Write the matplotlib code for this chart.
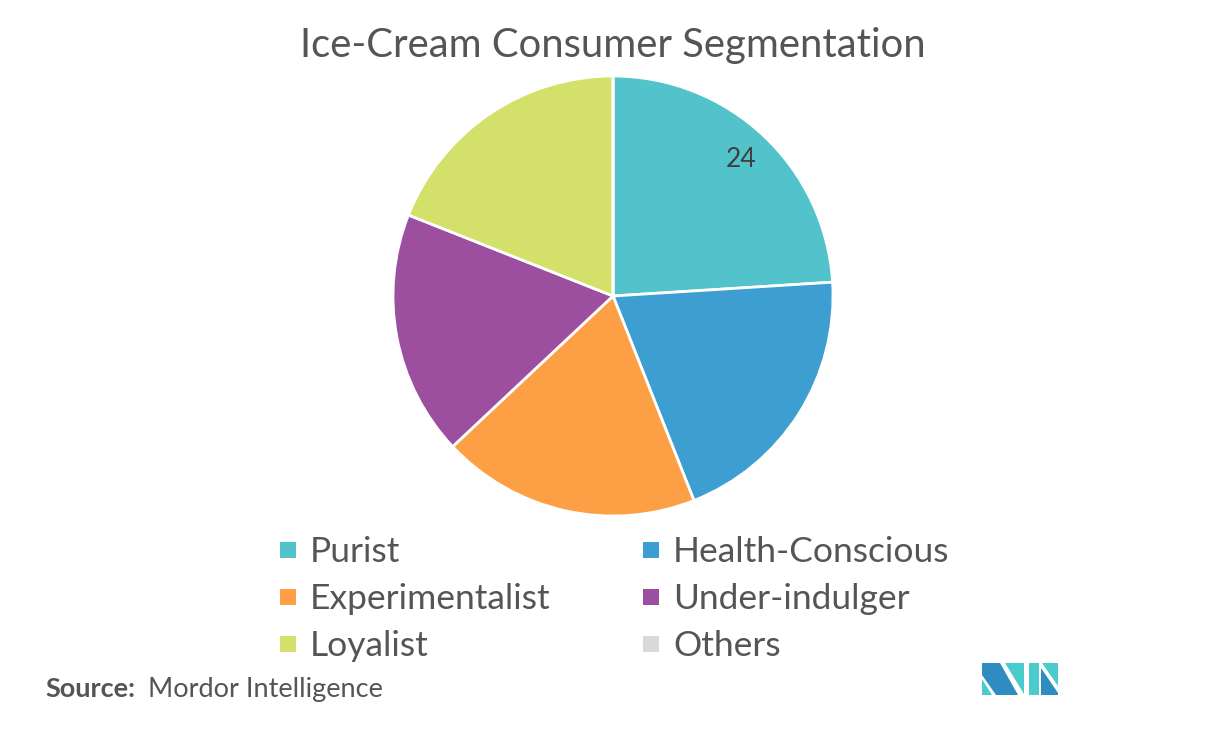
import matplotlib
matplotlib.use("Agg")
import matplotlib.pyplot as plt
from matplotlib.patches import Rectangle, Polygon
import numpy as np

categories = ["Purist", "Health-Conscious", "Experimentalist", "Under-indulger", "Loyalist", "Others"]
values = [24, 20, 19, 18, 19, 0]
colors = ["#52C3CA", "#3D9FD1", "#FD9F45", "#9C4F9E", "#D3E069", "#D9D9D9"]
shown_labels = ["24", "", "", "", "", ""]

title = "Ice-Cream Consumer Segmentation"

W, H = 1226, 736
fig = plt.figure(figsize=(W / 100, H / 100), dpi=100)
fig.patch.set_facecolor("white")

cx, cy, r = 613, 296, 220
ax = fig.add_axes([(cx - r) / W, 1 - (cy + r) / H, 2 * r / W, 2 * r / H])
wedges, _ = ax.pie(values, colors=colors, startangle=90, counterclock=False,
                   wedgeprops=dict(edgecolor="white", linewidth=2))
ax.set_xlim(-1, 1)
ax.set_ylim(-1, 1)
ax.set_aspect("equal")
ax.axis("off")

total = sum(values)
start = 90.0
for v, lab in zip(values, shown_labels):
    span = 360.0 * v / total
    mid = np.deg2rad(start - span / 2)
    if lab:
        ax.text(0.85 * np.cos(mid), 0.85 * np.sin(mid), lab, ha="center", va="center",
                fontsize=19, color="#404040", family="Lato")
    start -= span

fig.text(613 / W, 1 - 46 / H, title, ha="center", va="center", fontsize=28.8,
         color="#555555", family="Lato")

# legend
rows_y = [552, 599, 646]
cols_x = [287, 650]
order = [(0, 0, 0), (1, 1, 0), (2, 0, 1), (3, 1, 1), (4, 0, 2), (5, 1, 2)]
sq = 16
for idx, c, rr in order:
    x = cols_x[c]
    y = rows_y[rr]
    fig.patches.append(Rectangle(((x - sq / 2 + 1) / W, 1 - (y - 2 + sq / 2) / H), sq / W, sq / H,
                                 transform=fig.transFigure, facecolor=colors[idx], edgecolor="none"))
    fig.text((x + 23) / W, 1 - y / H, categories[idx], ha="left", va="center",
             fontsize=25.5, color="#555555", family="Lato")

fig.text(45 / W, 1 - 689 / H, "Source:", ha="left", va="center", fontsize=19.5,
         color="#555555", family="Lato", fontweight="bold")
fig.text(148 / W, 1 - 689 / H, "Mordor Intelligence", ha="left", va="center", fontsize=19.5,
         color="#555555", family="Lato")

# logo
def poly(pts, col):
    fig.patches.append(Polygon([(px / W, 1 - py / H) for px, py in pts], closed=True,
                               transform=fig.transFigure, facecolor=col, edgecolor="none"))

dark = "#2E8CC0"
teal = "#4CCBCF"
poly([(982, 679), (982, 695), (992, 695)], teal)
poly([(982, 663), (1000, 663), (1018, 695), (996, 695), (982, 675)], dark)
poly([(1005, 663), (1024, 663), (1024, 694)], teal)
poly([(1029, 663), (1039, 663), (1039, 695), (1029, 695)], teal)
poly([(1042, 663), (1058, 663), (1058, 686)], teal)
poly([(1041, 668), (1058, 693), (1058, 695), (1041, 695)], dark)

fig.savefig("out.png", dpi=100, facecolor="white")
